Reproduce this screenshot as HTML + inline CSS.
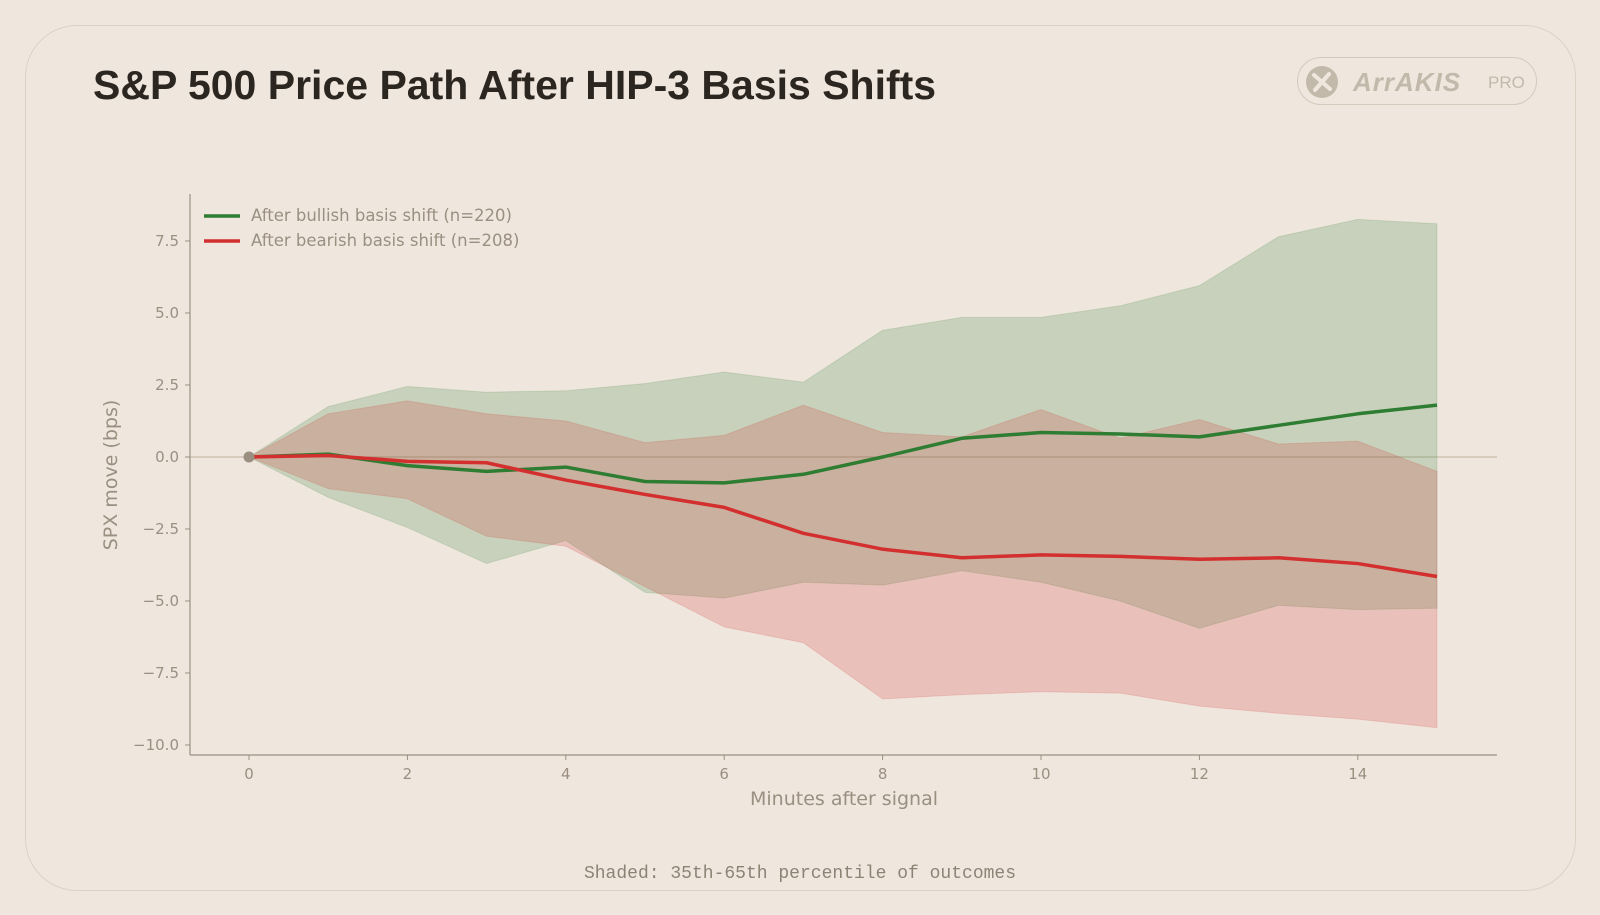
<!DOCTYPE html>
<html><head><meta charset="utf-8"><style>
html,body{margin:0;padding:0;background:#efe6de;}
body{width:1600px;height:915px;overflow:hidden;position:relative;font-family:"Liberation Sans",sans-serif;}
#card{position:absolute;left:25px;top:25px;width:1549px;height:864px;border:1.5px solid #ddd2c4;border-radius:52px;background:#efe6de;}
#title{position:absolute;left:93px;top:62px;font-size:41px;font-weight:bold;color:#2b2620;letter-spacing:0px;}
#logo{position:absolute;left:1297px;top:57px;width:240px;height:48px;border:1.5px solid #d5cabb;border-radius:26px;box-sizing:border-box;}
</style></head><body>
<div id="card"></div>
<div id="title">S&amp;P 500 Price Path After HIP-3 Basis Shifts</div>
<div id="logo">
<svg width="240" height="48" style="position:absolute;left:0;top:0">
<circle cx="24" cy="24" r="16" fill="#c3b9ab"/>
<path d="M16 17 L32 31 M31 16 L17 32" stroke="#efe6de" stroke-width="4" stroke-linecap="round"/>
<text x="55" y="33" font-family="Liberation Sans,sans-serif" font-size="26" font-weight="bold" font-style="italic" fill="#c3b9ab" letter-spacing="1">ArrAKIS</text>
<text x="190" y="30" font-family="Liberation Sans,sans-serif" font-size="17" fill="#c3b9ab">PRO</text>
</svg></div>
<svg id="chart" width="1600" height="915" style="position:absolute;left:0;top:0"></svg>
<script>
const minutes=[0,1,2,3,4,5,6,7,8,9,10,11,12,13,14,15];
const bullMean=[0,0.1,-0.3,-0.5,-0.35,-0.85,-0.9,-0.6,0.0,0.65,0.85,0.8,0.7,1.1,1.5,1.8];
const bullHi=[0,1.75,2.45,2.25,2.3,2.55,2.95,2.6,4.4,4.85,4.85,5.25,5.95,7.65,8.25,8.1];
const bullLo=[0,-1.4,-2.45,-3.7,-2.9,-4.7,-4.9,-4.35,-4.45,-3.95,-4.35,-5.0,-5.95,-5.15,-5.3,-5.25];
const bearMean=[0,0.05,-0.15,-0.2,-0.8,-1.3,-1.75,-2.65,-3.2,-3.5,-3.4,-3.45,-3.55,-3.5,-3.7,-4.15];
const bearHi=[0,1.5,1.95,1.5,1.25,0.5,0.75,1.8,0.85,0.7,1.65,0.65,1.3,0.45,0.55,-0.5];
const bearLo=[0,-1.1,-1.45,-2.75,-3.1,-4.5,-5.9,-6.45,-8.4,-8.25,-8.15,-8.2,-8.65,-8.9,-9.1,-9.4];
const yTicks=[7.5,5.0,2.5,0.0,-2.5,-5.0,-7.5,-10.0];
const xTicks=[0,2,4,6,8,10,12,14];
const NS='http://www.w3.org/2000/svg';
const svg=document.getElementById('chart');
const X=v=>249+v*79.2;
const Y=v=>457-v*28.8;
function mk(t,a){const e=document.createElementNS(NS,t);for(const k in a)e.setAttribute(k,a[k]);svg.appendChild(e);return e;}
const tc='#9a8f80';
let z=mk('line',{x1:190,x2:1497,y1:Y(0),y2:Y(0),stroke:'#bfb29e','stroke-width':1});


function band(hi,lo,fill,stroke,name){
 let d='M'+minutes.map((m,i)=>X(m)+','+Y(hi[i])).join(' L');
 for(let i=minutes.length-1;i>=0;i--)d+=' L'+X(minutes[i])+','+Y(lo[i]);
 const p=mk('path',{d:d+'Z',fill:fill,stroke:stroke,'stroke-width':1});
 
 
}
band(bullHi,bullLo,'rgba(46,125,50,0.2)','rgba(46,125,50,0.15)','bullish-band');
band(bearHi,bearLo,'rgba(211,47,47,0.2)','rgba(211,47,47,0.15)','bearish-band');
function line(vals,col,name){
 const p=mk('polyline',{points:minutes.map((m,i)=>X(m)+','+Y(vals[i])).join(' '),fill:'none',stroke:col,'stroke-width':3.5,'stroke-linejoin':'round'});
 
 
}
line(bullMean,'#2e7d32','bullish-line');
line(bearMean,'#d32f2f','bearish-line');
let dot=mk('circle',{cx:X(0),cy:Y(0),r:5.5,fill:'#9a8f80'});


let s1=mk('line',{x1:190,x2:190,y1:194,y2:755,stroke:'#9a8f80','stroke-width':1.2});


let s2=mk('line',{x1:190,x2:1497,y1:755,y2:755,stroke:'#9a8f80','stroke-width':1.2});


yTicks.forEach(v=>{
 mk('line',{x1:185,x2:190,y1:Y(v),y2:Y(v),stroke:'#9a8f80'});
 const t=mk('text',{x:179,y:Y(v)+5,'text-anchor':'end','font-size':15,fill:tc,'font-family':'DejaVu Sans,sans-serif'});
 t.textContent=(v<0?'\u2212':'')+Math.abs(v).toFixed(1);
 
 
});
xTicks.forEach(v=>{
 mk('line',{x1:X(v),x2:X(v),y1:755,y2:760,stroke:'#9a8f80'});
 const t=mk('text',{x:X(v),y:779,'text-anchor':'middle','font-size':15,fill:tc,'font-family':'DejaVu Sans,sans-serif'});
 t.textContent=v;
 
 
});
let xl=mk('text',{x:844,y:805,'text-anchor':'middle','font-size':19,fill:tc,'font-family':'DejaVu Sans,sans-serif'});
xl.textContent='Minutes after signal';


let yl=mk('text',{x:0,y:0,'text-anchor':'middle','font-size':19,fill:tc,'font-family':'DejaVu Sans,sans-serif',transform:'translate(117,475) rotate(-90)'});
yl.textContent='SPX move (bps)';


[['#2e7d32','After bullish basis shift (n=220)',216],['#d32f2f','After bearish basis shift (n=208)',241]].forEach(([c,txt,y])=>{
 const l=mk('line',{x1:204,x2:240,y1:y,y2:y,stroke:c,'stroke-width':3.5});
 
 
 const t=mk('text',{x:251,y:y+5,'font-size':16.5,fill:tc,'font-family':'DejaVu Sans,sans-serif'});
 t.textContent=txt;
 
 
});
let fn=mk('text',{x:800,y:878,'text-anchor':'middle','font-size':18,fill:'#8d8375','font-family':'Liberation Mono,monospace'});
fn.textContent='Shaded: 35th-65th percentile of outcomes';


</script>
</body></html>
